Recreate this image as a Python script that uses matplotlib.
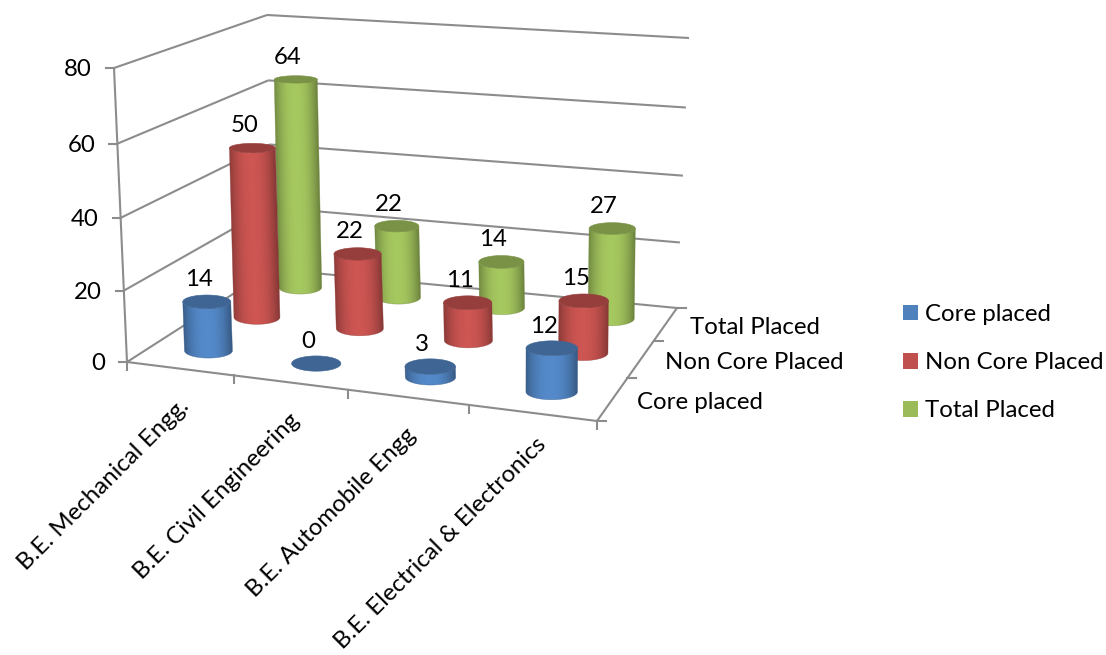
import numpy as np
import matplotlib
matplotlib.use("Agg")
import matplotlib.pyplot as plt
from matplotlib.patches import Patch, Polygon

categories = ["B.E. Mechanical Engg.", "B.E. Civil Engineering", "B.E. Automobile Engg", "B.E. Electrical & Electronics"]
series_names = ["Core placed", "Non Core Placed", "Total Placed"]
core_placed = [14, 0, 3, 12]
non_core_placed = [50, 22, 11, 15]
total_placed = [64, 22, 14, 27]
y_ticks = [0, 20, 40, 60, 80]

colors = ["#4F81BD", "#C0504D", "#9BBB59"]
GRID = "#8C8C8C"
LW = 1.5
FS = 17.3
plt.rcParams["font.family"] = ["Lato", "DejaVu Sans"]

# corners of the 3d box in pixels, (u, v) = (0,0) is front left
floor_box = [(127, 362), (597, 421), (677, 308), (272, 269)]
top_box = [(114, 68), (607, 112), (689, 38), (267, 15)]
Z_MAX = 80.0
row_half_width = [24, 23, 21.5]


def homography(box):
    src = [(0, 0), (1, 0), (1, 1), (0, 1)]
    a, b = [], []
    for (u, v), (x, y) in zip(src, box):
        a.append([u, v, 1, 0, 0, 0, -u * x, -v * x])
        a.append([0, 0, 0, u, v, 1, -u * y, -v * y])
        b += [x, y]
    return np.append(np.linalg.solve(np.array(a, float), np.array(b, float)), 1).reshape(3, 3)


H_floor = homography(floor_box)
H_top = homography(top_box)


def apply_h(h, u, v):
    p = h @ np.array([u, v, 1.0])
    return p[:2] / p[2]


def project(u, v, z=0.0):
    # z axis has a little perspective too
    f = z / Z_MAX
    f = f / (f + (1 - f) * 1.04)
    return (1 - f) * apply_h(H_floor, u, v) + f * apply_h(H_top, u, v)


def draw_line(ax, a, b):
    pa, pb = project(*a), project(*b)
    ax.plot([pa[0], pb[0]], [pa[1], pb[1]], color=GRID, lw=LW, solid_capstyle="butt")


def draw_cylinder(ax, i, j, value, col, zorder):
    u, v = (i + 0.5) / len(categories) + 0.005, (j + 0.5) / len(series_names)
    x0, y0 = project(u, v, 0.0)
    x1, y1 = project(u, v, float(value))
    x1 = x0 + 0.7 * (x1 - x0)
    hw = row_half_width[j] * (1 + 0.025 * i)
    hh0 = hw * 0.31
    hh1 = hw * (0.31 - 0.0022 * value)
    base = np.array(matplotlib.colors.to_rgb(col))
    cap = base * 0.78
    t = np.linspace(0, np.pi, 61)
    if value > 0:
        # side of the cylinder: horizontal shading image clipped to the outline
        front = np.c_[x0 - hw * np.cos(t), y0 + hh0 * np.sin(t)]
        back = np.c_[x1 + hw * np.cos(t), y1 + hh1 * np.sin(t)]
        outline = np.r_[front, back]
        xl, xr = outline[:, 0].min() - 1, outline[:, 0].max() + 1
        yt, yb = outline[:, 1].min() - 1, outline[:, 1].max() + 1
        xx, yy = np.meshgrid(np.arange(xl, xr, 0.5), np.arange(yt, yb, 0.5))
        frac = np.clip((yy - y1) / (y0 - y1), 0, 1)
        s = (xx - (x1 + (x0 - x1) * frac)) / hw
        k = 1.07 - 0.36 * np.clip(np.abs(s + 0.05), 0, 1) ** 2.2
        img = np.clip(base[None, None, :] * k[:, :, None], 0, 1)
        im = ax.imshow(img, extent=(xl, xr, yb, yt), origin="upper", aspect="auto",
                       interpolation="bilinear", zorder=zorder)
        im.set_clip_path(Polygon(outline, closed=True, transform=ax.transData))
        ax.add_patch(Polygon(outline, closed=True, facecolor="none", edgecolor=base * 0.72,
                             lw=0.4, alpha=0.6, zorder=zorder))
    t = np.linspace(0, 2 * np.pi, 121)
    ax.add_patch(Polygon(np.c_[x1 + hw * np.cos(t), y1 + hh1 * np.sin(t)], closed=True,
                         facecolor=cap, edgecolor=cap, lw=0.4, zorder=zorder + 0.5))
    return x1, y1


fig = plt.figure(figsize=(11.06, 6.55), dpi=100)
ax = fig.add_axes([0, 0, 1, 1])
ax.set_autoscale_on(False)
ax.set_xlim(0, 1106)
ax.set_ylim(655, 0)
ax.axis("off")

# walls and floor
for val in y_ticks:
    draw_line(ax, (0, 1, val), (1, 1, val))
    draw_line(ax, (0, 0, val), (0, 1, val))
    x, y = project(0, 0, val)
    ax.plot([x - 8, x], [y, y], color=GRID, lw=LW)
    ax.text(x - 22, y + 2, str(val), ha="right", va="center", fontsize=FS)
draw_line(ax, (0, 0, 0), (0, 0, 80))
draw_line(ax, (0, 0, 0), (1, 0, 0))
draw_line(ax, (1, 0, 0), (1, 1, 0))

n_cat = len(categories)
n_ser = len(series_names)
for i in range(n_cat + 1):
    x, y = project(i / n_cat, 0)
    ax.plot([x, x], [y, y + 8], color=GRID, lw=LW)
for j in range(n_ser + 1):
    x, y = project(1, j / n_ser)
    ax.plot([x, x + 9], [y, y], color=GRID, lw=LW)

# cylinders, back row first
series = [core_placed, non_core_placed, total_placed]
labels = []
z = 3
for j in reversed(range(n_ser)):
    for i in range(n_cat):
        xt, yt = draw_cylinder(ax, i, j, series[j][i], colors[j], z)
        labels.append((xt - 8, yt - 22, str(series[j][i])))
        z += 1
for x, y, s in labels:
    ax.text(x, y, s, ha="center", va="center", fontsize=FS, zorder=50)

renderer = fig.canvas.get_renderer()
for i, name in enumerate(categories):
    x, y = project((i + 0.5) / n_cat, 0)
    txt = ax.text(x - 2, y + 27, name, rotation=45, rotation_mode="anchor", ha="right", va="top", fontsize=FS)
    # long label: slide it along its own direction so it stays inside the figure
    over = 2 - txt.get_window_extent(renderer).y0
    if over > 0:
        txt.set_position((x - 2 + over, y + 27 - over))
for j, name in enumerate(series_names):
    x, y = project(1, (j + 0.5) / n_ser)
    ax.text(x + 24, y + 3.5, name, ha="left", va="center", fontsize=FS)

handles = [Patch(facecolor=c, edgecolor="none") for c in colors]
ax.legend(handles, series_names, loc="upper left", bbox_to_anchor=(903 / 1106, 1 - 304 / 655),
          frameon=False, fontsize=FS, handlelength=0.63, handleheight=0.63, handletextpad=0.27,
          labelspacing=1.13, borderpad=0, borderaxespad=0)

fig.savefig("out.png", dpi=100)
